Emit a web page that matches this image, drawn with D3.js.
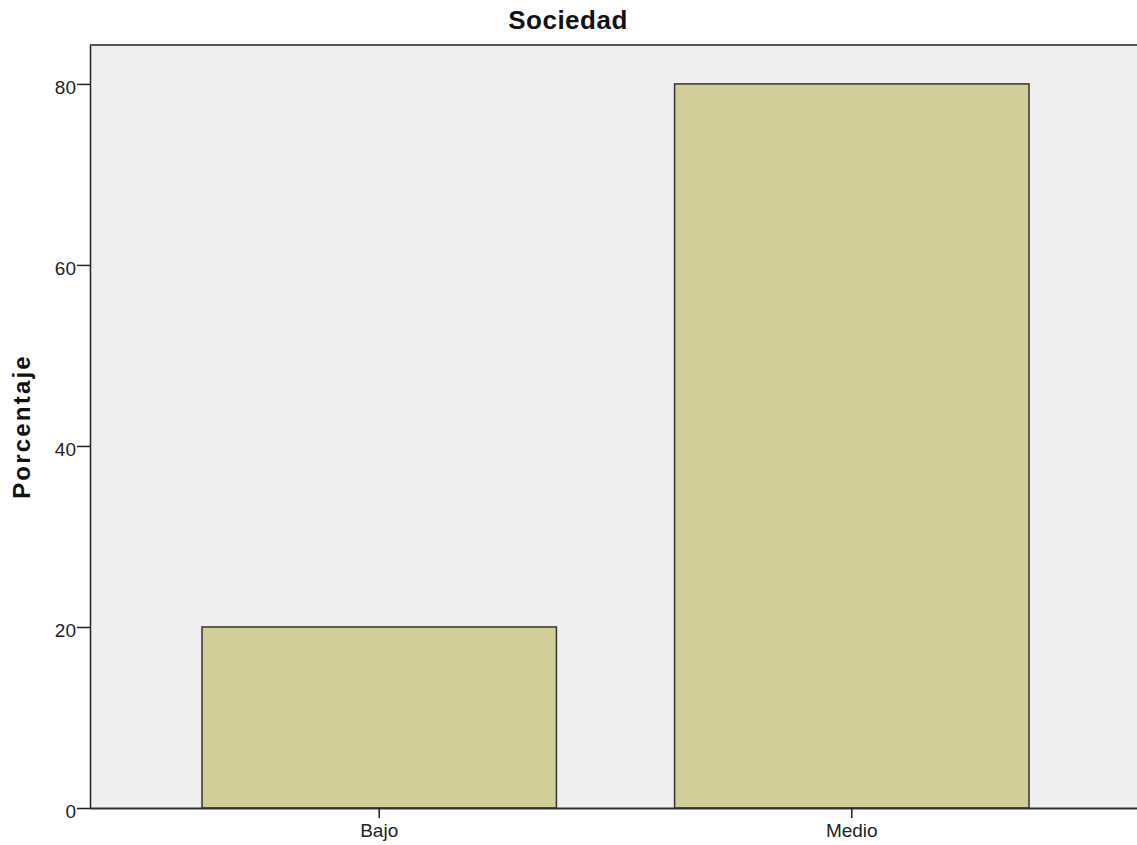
<!DOCTYPE html>
<html>
<head>
<meta charset="utf-8">
<script src="https://cdn.jsdelivr.net/npm/d3@7"></script>
<style>
  body { margin: 0; background: #fff; }
  svg { display: block; }
  text { font-family: "Liberation Sans", Arial, sans-serif; }
</style>
</head>
<body>
<svg id="chart" width="1137" height="845"></svg>
<script>
const categories = ["Bajo", "Medio"];
const values = [20, 80];
const yTicks = [0, 20, 40, 60, 80];
const title = "Sociedad";
const yLabel = "Porcentaje";

(function () {
const svg = d3.select("#chart");
const pLeft = 90, pRight = 1141, pTop = 45, pBottom = 808;

const x = d3.scaleBand().domain(categories).range([pLeft, pRight])
  .paddingInner(0.25).paddingOuter(0.237);
const y = d3.scaleLinear().domain([0, 84.3]).range([pBottom, pTop]);

svg.append("rect").attr("x", pLeft).attr("y", pTop)
  .attr("width", 1137 - pLeft).attr("height", pBottom - pTop)
  .attr("fill", "#efefef");

svg.append("line").attr("x1", pLeft).attr("x2", 1137)
  .attr("y1", pTop).attr("y2", pTop)
  .attr("stroke", "#555").attr("stroke-width", 2);

svg.selectAll("rect.bar").data(categories).enter().append("rect")
  .attr("class", "bar")
  .attr("x", d => x(d))
  .attr("width", x.bandwidth())
  .attr("y", (d, i) => y(values[i]))
  .attr("height", (d, i) => y(0) - y(values[i]))
  .attr("fill", "#d2ce98")
  .attr("stroke", "#333")
  .attr("stroke-width", 1.5);

const yAxis = d3.axisLeft(y).tickValues(yTicks).tickSize(13).tickSizeOuter(0).tickPadding(1).tickFormat(d3.format("d"));
const gy = svg.append("g").attr("transform", `translate(${pLeft},0)`).call(yAxis);
gy.select(".domain").attr("stroke", "#222").attr("stroke-width", 1.5);
gy.selectAll(".tick line").attr("stroke", "#222").attr("stroke-width", 1.5);
gy.selectAll(".tick text").attr("font-size", 19).attr("fill", "#222")
  .attr("dy", "0.5em")
  .attr("font-family", "'Liberation Sans', Arial, sans-serif");

const xAxis = d3.axisBottom(x).tickSize(10).tickSizeOuter(0).tickPadding(6);
const gx = svg.append("g").attr("transform", `translate(0,${pBottom})`).call(xAxis);
gx.select(".domain").attr("d", `M${pLeft},0.5H1137`).attr("stroke", "#333").attr("stroke-width", 2);
gx.selectAll(".tick line").attr("stroke", "#222").attr("stroke-width", 1.5);
gx.selectAll(".tick text").attr("font-size", 19).attr("fill", "#222")
  .attr("font-family", "'Liberation Sans', Arial, sans-serif");

svg.append("text").attr("x", 568).attr("y", 29)
  .attr("text-anchor", "middle").attr("font-size", 26).attr("font-weight", "bold")
  .attr("letter-spacing", 0.5)
  .attr("fill", "#111").text(title);

svg.append("text").attr("transform", `translate(30,${(pTop + pBottom) / 2}) rotate(-90)`)
  .attr("text-anchor", "middle").attr("font-size", 24).attr("font-weight", "bold")
  .attr("letter-spacing", 2.2)
  .attr("fill", "#111").text(yLabel);
})();
</script>
</body>
</html>
